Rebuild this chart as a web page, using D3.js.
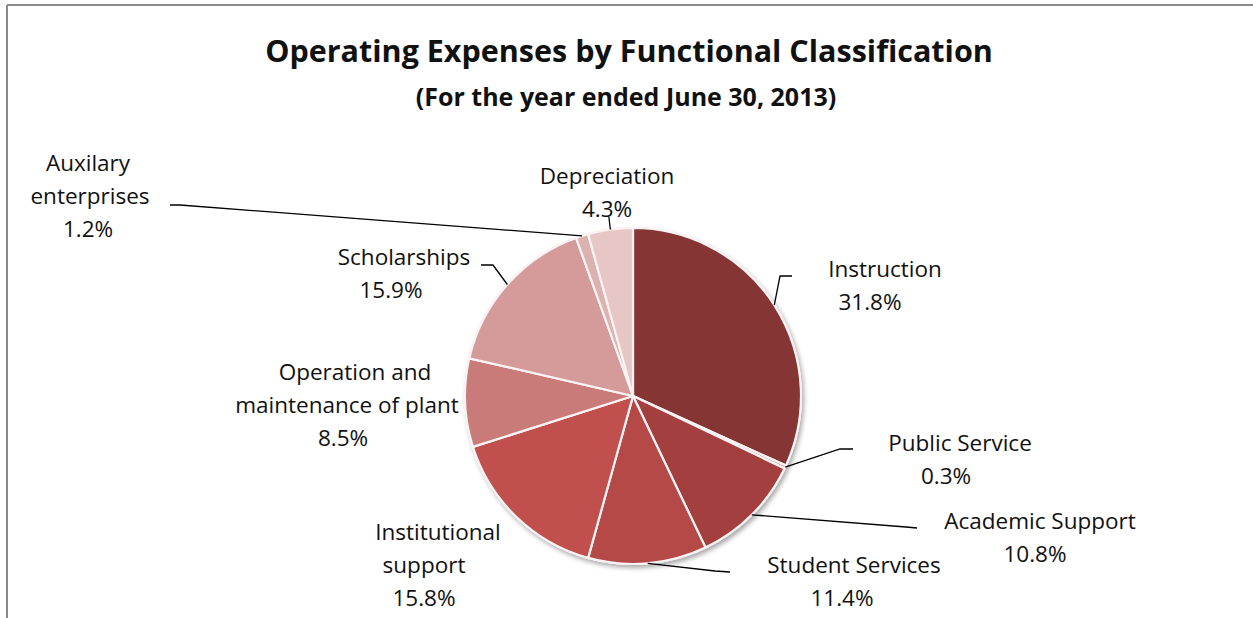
<!DOCTYPE html>
<html>
<head>
<meta charset="utf-8">
<script src="https://cdn.jsdelivr.net/npm/d3@7"></script>
<style>
  html, body { margin: 0; padding: 0; background: #fff; }
  svg { display: block; }
  text { font-family: "Open Sans", "Liberation Sans", sans-serif; fill: #111; }
</style>
</head>
<body>
<svg id="chart" width="1253" height="618"></svg>
<script>
// Operating expenses by functional classification, FY ended June 30, 2013
const categories = [
  "Instruction", "Public Service", "Academic Support", "Student Services",
  "Institutional support", "Operation and maintenance of plant",
  "Scholarships", "Auxilary enterprises", "Depreciation"
];
const shares = [31.8, 0.3, 10.8, 11.4, 15.8, 8.5, 15.9, 1.2, 4.3];
const sliceColors = [
  "#843534", "#d69a99", "#a33f3e", "#b54948", "#c04f4e",
  "#c97b7a", "#d49b9a", "#dcb2b1", "#e6c7c6"
];
// label text lines per category
const labelLines = [
  ["Instruction", "31.8%"],
  ["Public Service", "0.3%"],
  ["Academic Support", "10.8%"],
  ["Student Services", "11.4%"],
  ["Institutional", "support", "15.8%"],
  ["Operation and", "maintenance of plant", "8.5%"],
  ["Scholarships", "15.9%"],
  ["Auxilary", "enterprises", "1.2%"],
  ["Depreciation", "4.3%"]
];

// label placement: per-line centre x, first-line baseline, leader elbow points
const labelLayout = [
  { xs: [885, 870], y: 277, leader: [[792, 276], [780, 276]] },
  { xs: [960, 946], y: 451, leader: [[853, 449], [840, 449]] },
  { xs: [1040, 1035], y: 529, leader: [[917, 528], [906, 527]] },
  { xs: [854, 842], y: 573, leader: [[730, 572], [715, 571]] },
  { xs: [438, 424, 424], y: 540, leader: null },
  { xs: [355, 347, 343], y: 380, leader: null },
  { xs: [404, 391], y: 265, leader: [[481, 265], [493, 265]] },
  { xs: [88, 90, 88], y: 171, leader: [[170, 205], [180, 205]] },
  { xs: [607, 607], y: 184, leader: [[609, 217], [609, 218]] }
];

const svg = d3.select("#chart");
const W = 1253, H = 618;
const cx = 633, cy = 396, R = 168;
const lineH = 33;

// chart frame (top and left edges visible)
svg.append("line").attr("x1", 7).attr("y1", 5).attr("x2", W).attr("y2", 5)
  .attr("stroke", "#8a8a8a").attr("stroke-width", 2);
svg.append("line").attr("x1", 7).attr("y1", 5).attr("x2", 7).attr("y2", H)
  .attr("stroke", "#8a8a8a").attr("stroke-width", 2);

// titles
svg.append("text").attr("x", 629).attr("y", 62)
  .attr("text-anchor", "middle")
  .style("font-weight", "bold").style("font-size", "30.5px")
  .text("Operating Expenses by Functional Classification");
svg.append("text").attr("x", 626).attr("y", 106)
  .attr("text-anchor", "middle")
  .style("font-weight", "bold").style("font-size", "25px")
  .text("(For the year ended June 30, 2013)");

// soft shadow under the pie
const defs = svg.append("defs");
const f = defs.append("filter").attr("id", "pieShadow")
  .attr("x", "-20%").attr("y", "-20%").attr("width", "140%").attr("height", "140%");
f.append("feGaussianBlur").attr("in", "SourceAlpha").attr("stdDeviation", 2.5);
f.append("feOffset").attr("dx", 1.5).attr("dy", 2.5).attr("result", "off");
f.append("feComponentTransfer").append("feFuncA").attr("type", "linear").attr("slope", 0.35);
const m = f.append("feMerge");
m.append("feMergeNode");
m.append("feMergeNode").attr("in", "SourceGraphic");

const pie = d3.pie().sort(null).value(d => d)(shares);
const arc = d3.arc().innerRadius(0).outerRadius(R);

const g = svg.append("g").attr("transform", `translate(${cx},${cy})`);
g.append("circle").attr("r", R + 1).attr("fill", "#f1dcdc")
  .attr("filter", "url(#pieShadow)");
g.selectAll("path.slice").data(pie).join("path")
  .attr("class", "slice")
  .attr("d", arc)
  .attr("fill", (d, i) => sliceColors[i])
  .attr("stroke", "#fbf3f3")
  .attr("stroke-width", 2.2)
  .attr("stroke-linejoin", "round");

// leader lines: from label elbow to the slice's outer mid-point
pie.forEach((d, i) => {
  const L = labelLayout[i];
  if (!L.leader) return;
  const mid = (d.startAngle + d.endAngle) / 2;
  const end = [cx + R * Math.sin(mid), cy - R * Math.cos(mid)];
  const pts = L.leader.concat([end]);
  svg.append("path")
    .attr("d", d3.line()(pts))
    .attr("fill", "none").attr("stroke", "#000").attr("stroke-width", 1.3);
});

// labels
labelLines.forEach((lines, i) => {
  const L = labelLayout[i];
  const t = svg.append("text").attr("text-anchor", "middle")
    .style("font-size", "22.5px");
  lines.forEach((s, k) => {
    t.append("tspan").attr("x", L.xs[k]).attr("y", L.y + k * lineH).text(s);
  });
});
</script>
</body>
</html>
